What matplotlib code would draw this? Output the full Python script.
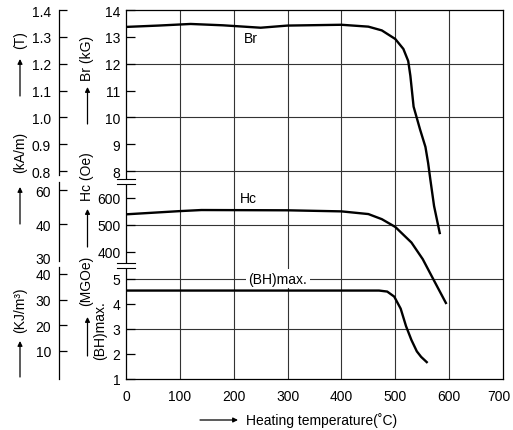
import matplotlib
matplotlib.use('Agg')
import matplotlib.pyplot as plt
from matplotlib.patches import Rectangle, FancyArrowPatch
from matplotlib.transforms import ScaledTranslation

plt.rcParams['font.family'] = ['Liberation Sans', 'DejaVu Sans']
plt.rcParams['font.size'] = 10

# --- data ---
br_temp = [0, 60, 120, 180, 250, 300, 400, 450, 475, 500, 515, 524, 528, 534, 546, 556, 561, 565, 572, 583]
br_kg = [13.37, 13.42, 13.48, 13.43, 13.34, 13.42, 13.45, 13.38, 13.24, 12.92, 12.55, 12.10, 11.55,
         10.40, 9.55, 8.90, 8.30, 7.70, 6.70, 5.65]

hc_temp = [0, 100, 140, 300, 400, 450, 475, 500, 530, 551, 572, 595]
hc_oe = [539, 551, 555, 554, 550, 540, 521, 492, 434, 372, 292, 205]

bh_temp = [0, 470, 485, 498, 510, 520, 530, 540, 548, 560]
bh_mgoe = [4.52, 4.52, 4.48, 4.28, 3.80, 3.10, 2.55, 2.10, 1.88, 1.64]

x_ticks = [0, 100, 200, 300, 400, 500, 600, 700]
br_ticks = [14, 13, 12, 11, 10, 9, 8]
hc_ticks = [600, 500, 400]
bh_ticks = [5, 4, 3, 2, 1]
tesla_ticks = [1.4, 1.3, 1.2, 1.1, 1.0, 0.9, 0.8]
# kA/m marks sit at 50/40/30 kA/m, the top one is printed "60" in the original
kam_ticks = [50, 40, 30]
kam_labels = ['60', '40', '30']
kj_ticks = [40, 30, 20, 10]

# --- one shared vertical scale (kG units), other quantities mapped onto it ---
Y_BOTTOM = 0.257
BH_K = (4.0 - Y_BOTTOM) / 4.0


def hc_y(v):
    return v / 100.0 + 1.0


def bh_y(v):
    return 4.0 - (5.0 - v) * BH_K


def kam_y(v):
    return hc_y(v * 12.566)


def kj_y(v):
    return bh_y(1.113 + v * 0.1017)


def px_y(p):
    # pixel row in the figure -> kG scale
    return 14 - (p - 11) / 26.85


W, H = 513, 431
fig = plt.figure(figsize=(W / 100, H / 100), dpi=100)
rect = [126 / W, 1 - 380 / H, 377 / W, 369 / H]
ax = fig.add_axes(rect)
ax.set_xlim(0, 700)
ax.set_ylim(Y_BOTTOM, 14)

grid_kw = dict(color='#333333', lw=0.8, zorder=1)
for v in x_ticks[1:-1]:
    ax.axvline(v, **grid_kw)
for y in [12, 10, 8, hc_y(500), bh_y(5), bh_y(3)]:
    ax.axhline(y, **grid_kw)

line_kw = dict(color='black', lw=1.7, solid_joinstyle='round', solid_capstyle='butt', zorder=3)
ax.plot(br_temp, br_kg, **line_kw)
ax.plot(hc_temp, [hc_y(v) for v in hc_oe], **line_kw)
ax.plot(bh_temp, [bh_y(v) for v in bh_mgoe], **line_kw)

ax.text(232, 12.96, 'Br', ha='center', va='center')
ax.text(228, 7.0, 'Hc', ha='center', va='center')
ax.text(282, bh_y(5), '(BH)max.', ha='center', va='center', zorder=4,
        bbox=dict(facecolor='white', edgecolor='none', pad=2))

ypos = br_ticks + [hc_y(v) for v in hc_ticks] + [bh_y(v) for v in bh_ticks]
ylab = [str(v) for v in br_ticks] + [str(v) for v in hc_ticks] + [str(v) for v in bh_ticks]
ax.set_yticks(ypos, ylab)
ax.set_xticks(x_ticks, [str(v) for v in x_ticks])
ax.tick_params(axis='y', direction='in', length=6.5, width=0.9, pad=4)
ax.tick_params(axis='x', length=0, pad=7)
for s in ax.spines.values():
    s.set_linewidth(0.9)

# the last x label sits a little left of the corner, as in the original
last = ax.get_xticklabels()[-1]
last.set_transform(last.get_transform() + ScaledTranslation(-4 / 100, 0, fig.dpi_scale_trans))

# axis breaks on the main left spine
half = 2.5 / 26.85
for p in [182.5, 266.5]:
    yb = px_y(p)
    ax.add_patch(Rectangle((-16.6, yb - half), 33.2, 2 * half, facecolor='white',
                           edgecolor='none', clip_on=False, zorder=5))
    for yy in (yb - half, yb + half):
        ax.plot([-16.6, 16.6], [yy, yy], color='black', lw=0.8, clip_on=False, zorder=6)


def outer_scale(pos, labels, lo, hi, hide_last=False):
    a = fig.add_axes(rect)
    a.patch.set_visible(False)
    a.set_ylim(Y_BOTTOM, 14)
    a.set_xticks([])
    for k in ['top', 'right', 'bottom']:
        a.spines[k].set_visible(False)
    a.spines['left'].set_position(('outward', 48.5))
    a.spines['left'].set_bounds(lo, hi)
    a.spines['left'].set_linewidth(0.9)
    a.set_yticks(pos, labels)
    a.tick_params(axis='y', direction='in', length=5.8, width=0.9, pad=5.5)
    if hide_last:
        a.yaxis.get_major_ticks()[-1].tick1line.set_visible(False)


outer_scale([v * 10 for v in tesla_ticks], [f'{v:.1f}' for v in tesla_ticks], px_y(176), 14)
outer_scale([kam_y(v) for v in kam_ticks], kam_labels, px_y(262), px_y(183), hide_last=True)
outer_scale([kj_y(v) for v in kj_ticks], [str(v) for v in kj_ticks], Y_BOTTOM, px_y(268))


def arrow(x0, y0, x1, y1):
    fig.add_artist(FancyArrowPatch((x0 / W, 1 - y0 / H), (x1 / W, 1 - y1 / H),
                                   transform=fig.transFigure, arrowstyle='-|>',
                                   mutation_scale=7, lw=0.9, color='black',
                                   shrinkA=0, shrinkB=0))


def vtext(x, y, s):
    fig.text(x / W, 1 - y / H, s, rotation=90, ha='center', va='center')


vtext(20, 40, '(T)')
arrow(20, 97, 20, 60)
vtext(20, 152, '(kA/m)')
arrow(20, 225, 20, 188)
vtext(20, 310, '(KJ/m³)')
arrow(20, 378, 20, 342)

vtext(87, 58, 'Br (kG)')
arrow(87.5, 125, 87.5, 88)
vtext(87, 177, 'Hc (Oe)')
arrow(87.5, 248, 87.5, 210)
vtext(86, 281, '(MGOe)')
vtext(100, 331, '(BH)max.')
arrow(87.5, 357, 87.5, 318)

arrow(200, 421, 238, 421)
fig.text(246 / W, 1 - 421 / H, 'Heating temperature(˚C)', ha='left', va='center')

fig.savefig('out.png', dpi=100)
